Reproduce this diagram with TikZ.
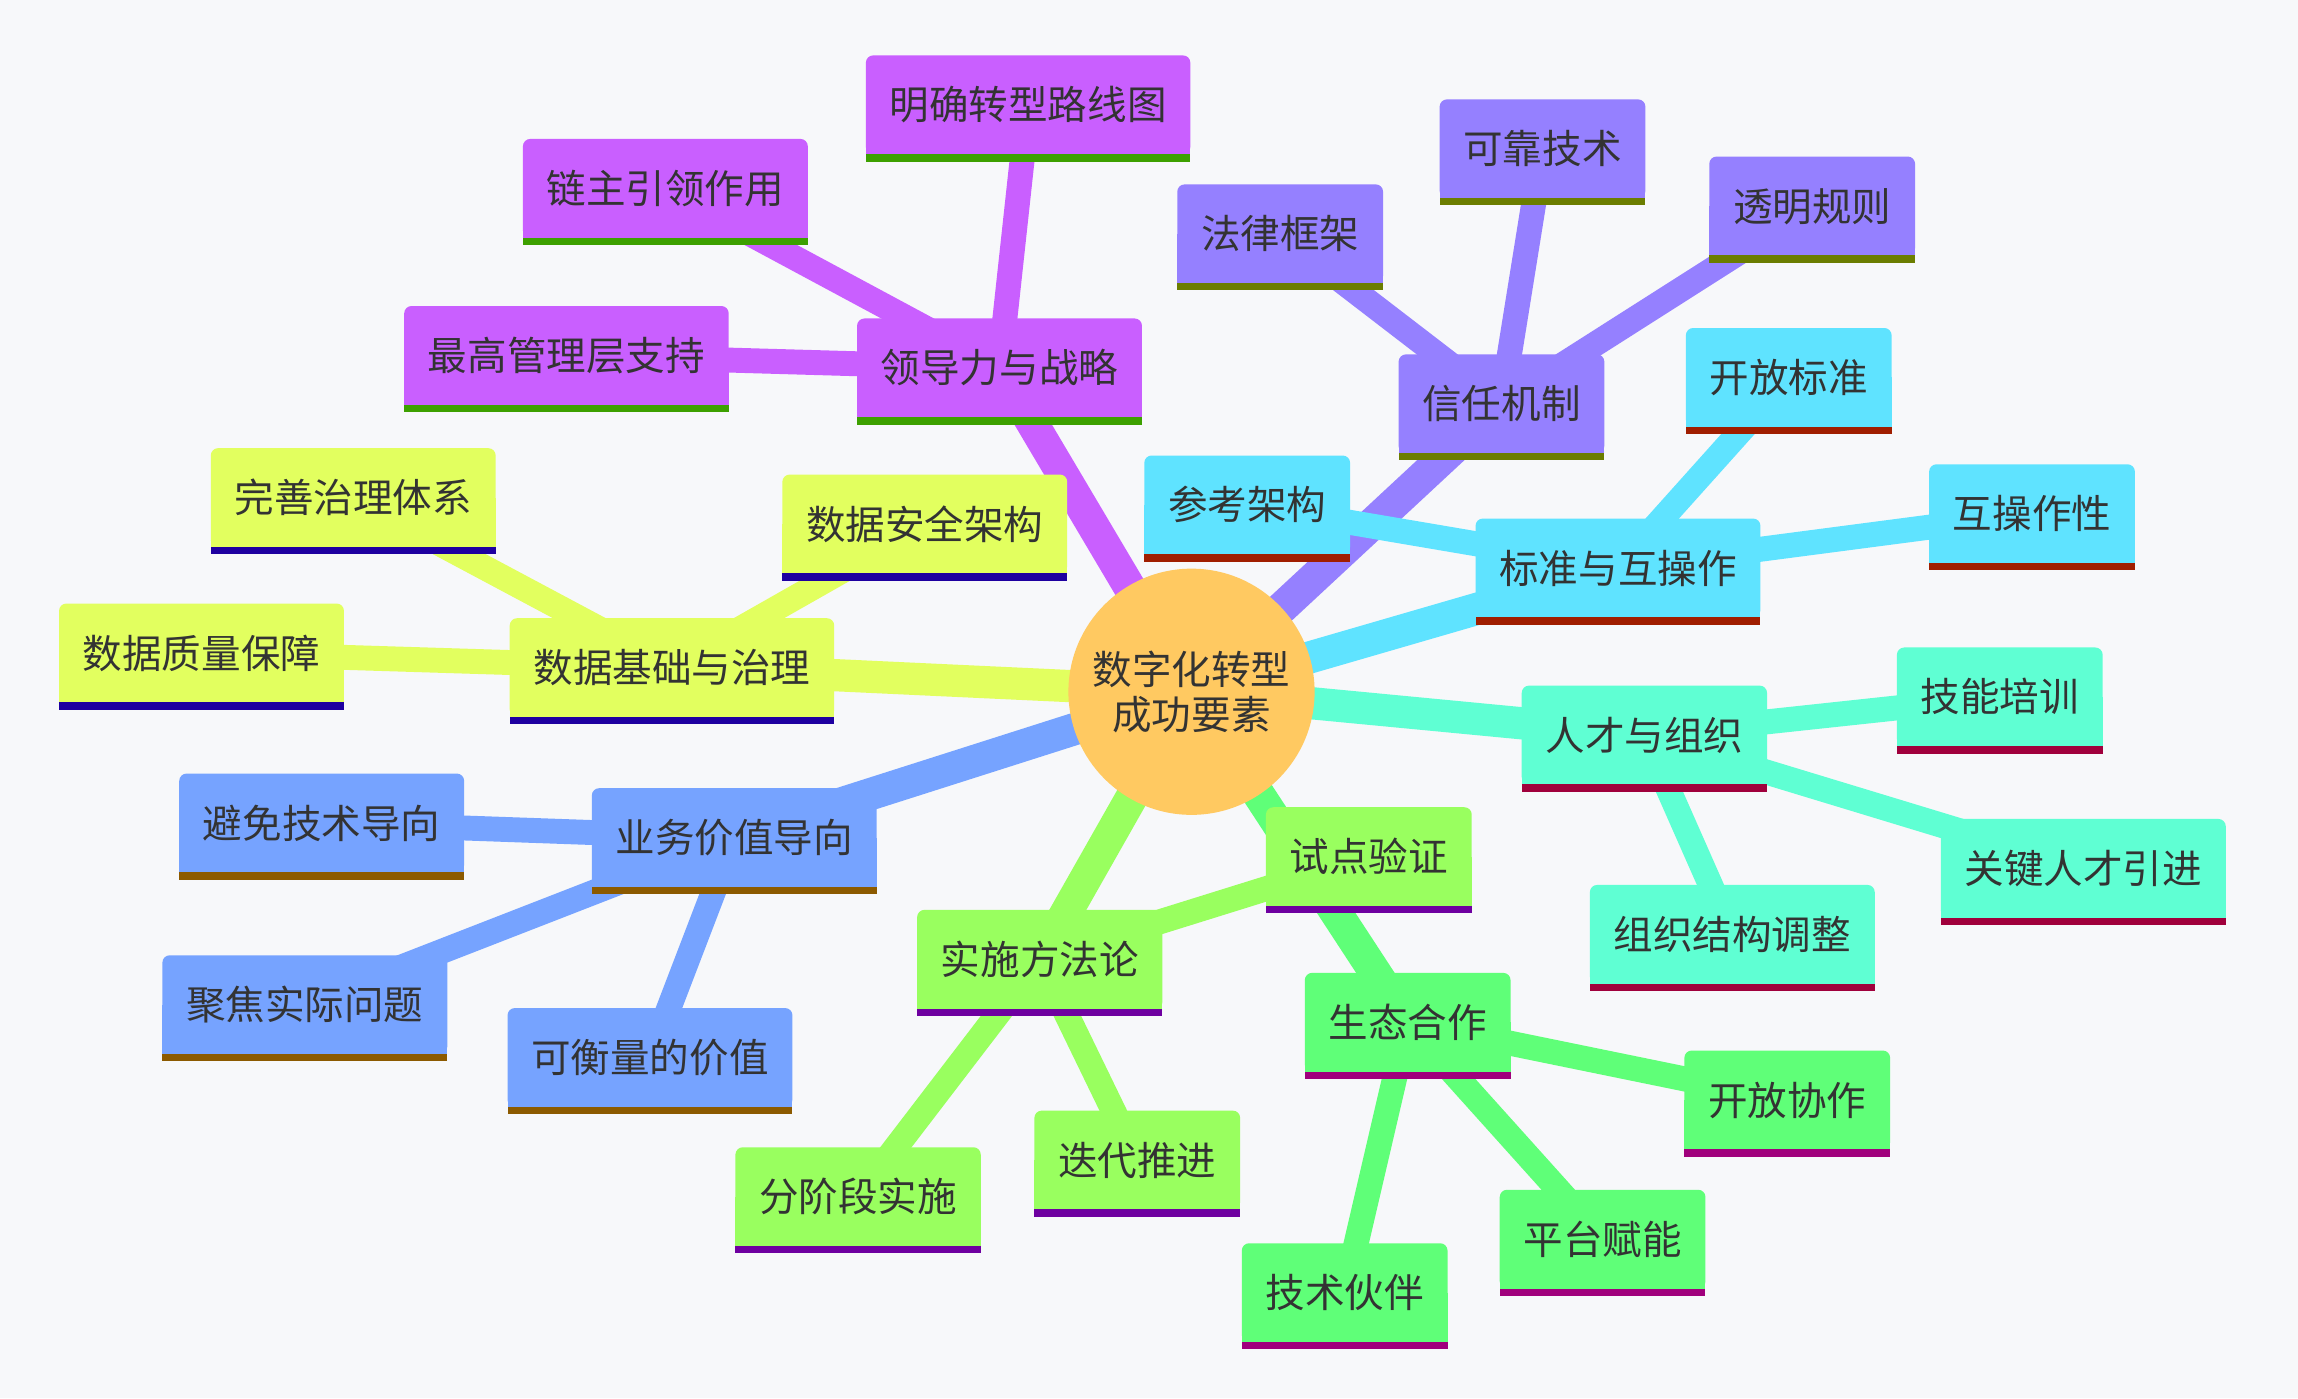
\documentclass[tikz,border=0pt]{standalone}
\usepackage{fontspec}
\newfontfamily\cjk{Noto Sans CJK SC}
\pgfdeclarelayer{bglayer}
\pgfdeclarelayer{lines}
\pgfdeclarelayer{boxes}
\pgfsetlayers{bglayer,lines,boxes,main}
\definecolor{bg}{HTML}{F7F8FA}
\definecolor{txt}{HTML}{333333}
\definecolor{cen}{HTML}{FFC961}
\definecolor{cL}{HTML}{C95FFF}\definecolor{sL}{HTML}{3DA000}
\definecolor{cT}{HTML}{9580FF}\definecolor{sT}{HTML}{6B7D00}
\definecolor{cS}{HTML}{5FE3FF}\definecolor{sS}{HTML}{A01E00}
\definecolor{cR}{HTML}{5FFFD3}\definecolor{sR}{HTML}{A0003C}
\definecolor{cE}{HTML}{5FFF78}\definecolor{sE}{HTML}{A0007C}
\definecolor{cI}{HTML}{99FF5F}\definecolor{sI}{HTML}{6E00A0}
\definecolor{cB}{HTML}{76A3FF}\definecolor{sB}{HTML}{8C5A00}
\definecolor{cD}{HTML}{E2FF5F}\definecolor{sD}{HTML}{1E00A0}
\tikzset{
  mm/.style={text=txt, font=\cjk\fontsize{27}{31}\selectfont, inner xsep=16pt, inner ysep=0pt,
    minimum height=67pt, text height=23.8pt, text depth=3.2pt},
  mainline/.style={line width=22pt},
  subline/.style={line width=17pt},
}
\newcommand\mmbox[5]{%
  \node[mm] (#1) at (#2) {#3};
  \begin{pgfonlayer}{boxes}
    \fill[#4, rounded corners=5pt] (#1.south west) rectangle (#1.north east);
    \fill[#4] (#1.south west) rectangle (#1.east);
    \fill[#5] (#1.south west) rectangle ([yshift=-5pt]#1.south east);
  \end{pgfonlayer}}
\newcommand\mmlink[4]{%
  \begin{pgfonlayer}{lines}
    \draw[#3, #4] (#1.center) -- (#2.center);
  \end{pgfonlayer}}
\begin{document}
\begin{tikzpicture}[x=1pt,y=-1pt]
\begin{pgfonlayer}{bglayer}
\fill[bg] (0,0) rectangle (1568,954);
\end{pgfonlayer}
\useasboundingbox (0,0) rectangle (1568,954);
\node[circle, fill=cen, minimum size=168pt, inner sep=0pt, text=txt, align=center,
  font=\cjk\fontsize{27}{31}\selectfont] (c) at (813,472) {数字化转型\\成功要素};
% branch: leadership
\mmbox{L}{682,251}{领导力与战略}{cL}{sL}
\mmbox{L1}{701.5,71.5}{明确转型路线图}{cL}{sL}
\mmbox{L2}{454,128.5}{链主引领作用}{cL}{sL}
\mmbox{L3}{386.5,242.5}{最高管理层支持}{cL}{sL}
% trust
\mmbox{T}{1024.5,275.5}{信任机制}{cT}{sT}
\mmbox{T1}{873.5,159.5}{法律框架}{cT}{sT}
\mmbox{T2}{1052.5,101.5}{可靠技术}{cT}{sT}
\mmbox{T3}{1236.5,140.5}{透明规则}{cT}{sT}
% standards
\mmbox{S}{1104,387.5}{标准与互操作}{cS}{sS}
\mmbox{S1}{851,344.5}{参考架构}{cS}{sS}
\mmbox{S2}{1220.5,257.5}{开放标准}{cS}{sS}
\mmbox{S3}{1386.5,350.5}{互操作性}{cS}{sS}
% talent
\mmbox{R}{1122,501.5}{人才与组织}{cR}{sR}
\mmbox{R1}{1364.5,475.5}{技能培训}{cR}{sR}
\mmbox{R2}{1421.5,592.5}{关键人才引进}{cR}{sR}
\mmbox{R3}{1182,637.5}{组织结构调整}{cR}{sR}
% ecosystem
\mmbox{E}{960.5,697.5}{生态合作}{cE}{sE}
\mmbox{E1}{1219.5,750.5}{开放协作}{cE}{sE}
\mmbox{E2}{1093.5,845.5}{平台赋能}{cE}{sE}
\mmbox{E3}{917.5,882}{技术伙伴}{cE}{sE}
% implementation
\mmbox{I}{709.5,654.5}{实施方法论}{cI}{sI}
\mmbox{I1}{934,584.5}{试点验证}{cI}{sI}
\mmbox{I2}{776,791.5}{迭代推进}{cI}{sI}
\mmbox{I3}{585.5,816.5}{分阶段实施}{cI}{sI}
% business value
\mmbox{B}{501,571.5}{业务价值导向}{cB}{sB}
\mmbox{B1}{219.5,561.5}{避免技术导向}{cB}{sB}
\mmbox{B2}{208,685.5}{聚焦实际问题}{cB}{sB}
\mmbox{B3}{443.5,721.5}{可衡量的价值}{cB}{sB}
% data
\mmbox{D}{458.5,455.5}{数据基础与治理}{cD}{sD}
\mmbox{D1}{241,339.5}{完善治理体系}{cD}{sD}
\mmbox{D2}{631,357.5}{数据安全架构}{cD}{sD}
\mmbox{D3}{137.5,445.5}{数据质量保障}{cD}{sD}
% links
\mmlink{c}{L}{cL}{mainline}
\mmlink{c}{T}{cT}{mainline}
\mmlink{c}{S}{cS}{mainline}
\mmlink{c}{R}{cR}{mainline}
\mmlink{c}{E}{cE}{mainline}
\mmlink{c}{I}{cI}{mainline}
\mmlink{c}{B}{cB}{mainline}
\mmlink{c}{D}{cD}{mainline}
\mmlink{L}{L1}{cL}{subline}\mmlink{L}{L2}{cL}{subline}\mmlink{L}{L3}{cL}{subline}
\mmlink{T}{T1}{cT}{subline}\mmlink{T}{T2}{cT}{subline}\mmlink{T}{T3}{cT}{subline}
\mmlink{S}{S1}{cS}{subline}\mmlink{S}{S2}{cS}{subline}\mmlink{S}{S3}{cS}{subline}
\mmlink{R}{R1}{cR}{subline}\mmlink{R}{R2}{cR}{subline}\mmlink{R}{R3}{cR}{subline}
\mmlink{E}{E1}{cE}{subline}\mmlink{E}{E2}{cE}{subline}\mmlink{E}{E3}{cE}{subline}
\mmlink{I}{I1}{cI}{subline}\mmlink{I}{I2}{cI}{subline}\mmlink{I}{I3}{cI}{subline}
\mmlink{B}{B1}{cB}{subline}\mmlink{B}{B2}{cB}{subline}\mmlink{B}{B3}{cB}{subline}
\mmlink{D}{D1}{cD}{subline}\mmlink{D}{D2}{cD}{subline}\mmlink{D}{D3}{cD}{subline}
\end{tikzpicture}
\end{document}
